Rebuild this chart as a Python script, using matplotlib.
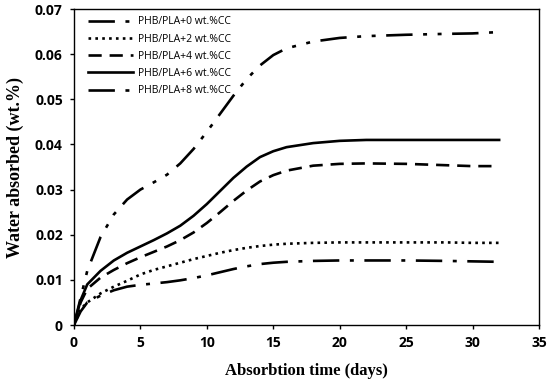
import matplotlib
matplotlib.use("Agg")
from matplotlib import pyplot as plt

days = [0, 0.5, 1, 2, 3, 4, 5, 6, 7, 8, 9, 10, 11, 12, 13, 14, 15, 16, 18, 20, 22, 25, 28, 30, 32]

cc0 = [0, 0.003, 0.005, 0.0065, 0.0077, 0.0085, 0.0089, 0.0092, 0.0095, 0.0099, 0.0104, 0.011, 0.0117, 0.0124, 0.013, 0.0135, 0.0138, 0.014, 0.0142, 0.0143, 0.0143, 0.0143, 0.0142, 0.0141, 0.014]
cc2 = [0, 0.0035, 0.005, 0.007, 0.0085, 0.0098, 0.0112, 0.0122, 0.013, 0.0138, 0.0146, 0.0153, 0.016, 0.0166, 0.0171, 0.0175, 0.0178, 0.018, 0.0182, 0.0183, 0.0183, 0.0183, 0.0183, 0.0182, 0.0182]
cc4 = [0, 0.005, 0.008, 0.0105, 0.0122, 0.0137, 0.015, 0.0162, 0.0174, 0.0188, 0.0205, 0.0226, 0.025, 0.0275, 0.0298, 0.0318, 0.0332, 0.0342, 0.0353, 0.0357, 0.0358, 0.0357, 0.0354, 0.0352, 0.0352]
cc6 = [0, 0.0055, 0.009, 0.012, 0.0143, 0.016, 0.0174, 0.0188, 0.0203, 0.022, 0.0242, 0.0268, 0.0297, 0.0326, 0.0351, 0.0372, 0.0385, 0.0394, 0.0403, 0.0408, 0.041, 0.041, 0.041, 0.041, 0.041]
cc8 = [0, 0.006, 0.012, 0.0195, 0.0245, 0.0278, 0.03, 0.0316, 0.0333, 0.0358, 0.039, 0.0428, 0.0468, 0.0508, 0.0545, 0.0575, 0.0598, 0.0613, 0.0628, 0.0636, 0.064, 0.0643, 0.0645, 0.0646, 0.0649]

labels = ['PHB/PLA+0 wt.%CC', 'PHB/PLA+2 wt.%CC', 'PHB/PLA+4 wt.%CC',
          'PHB/PLA+6 wt.%CC', 'PHB/PLA+8 wt.%CC']
yticks = [0, 0.01, 0.02, 0.03, 0.04, 0.05, 0.06, 0.07]
ytick_labels = ['0', '0.01', '0.02', '0.03', '0.04', '0.05', '0.06', '0.07']
xticks = [0, 5, 10, 15, 20, 25, 30, 35]

fig = plt.figure(figsize=(5.5, 3.83), dpi=100)
ax = fig.add_axes([0.1345, 0.1514, 0.8455, 0.825])

lw = 1.9
ax.plot(days, cc0, color='black', lw=lw, dashes=(10, 4, 1.5, 4), label=labels[0])
ax.plot(days, cc2, color='black', lw=lw, dashes=(1, 1.6), label=labels[1])
ax.plot(days, cc4, color='black', lw=lw, dashes=(5, 3), label=labels[2])
ax.plot(days, cc6, color='black', lw=lw, label=labels[3])
ax.plot(days, cc8, color='black', lw=lw, dashes=(10, 4, 1.5, 4, 1.5, 4), label=labels[4])

ax.set_xlim(0, 35)
ax.set_ylim(0, 0.07)
ax.set_xticks(xticks)
ax.set_yticks(yticks)
ax.set_yticklabels(ytick_labels)
ax.tick_params(direction='out', length=3, width=1, labelsize=10, pad=5)
for lab in ax.get_xticklabels() + ax.get_yticklabels():
    lab.set_family('Open Sans')
    lab.set_fontweight('bold')
for s in ax.spines.values():
    s.set_linewidth(1.0)

ax.set_xlabel('Absorbtion time (days)', family='Liberation Serif', fontweight='bold',
              fontsize=12, labelpad=9)
ax.set_ylabel('Water absorbed (wt.%)', family='Liberation Serif', fontweight='bold',
              fontsize=13, labelpad=8)

leg = ax.legend(loc='upper left', frameon=False, handlelength=4.3, handletextpad=0.5,
                prop={'family': 'Open Sans', 'size': 7.5}, labelspacing=0.6,
                bbox_to_anchor=(0.015, 1.0), borderaxespad=0.3)

fig.savefig('out.png', dpi=100)
